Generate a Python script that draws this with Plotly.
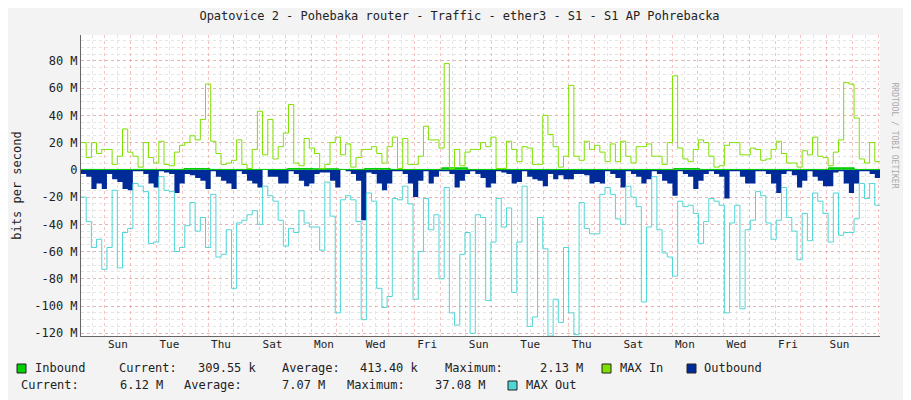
import plotly.graph_objects as go
import pandas as pd

# values in Mbit/s
max_in = [20, 9, 20, 12, 15, 15, 4, 10, 30, 13, 10, 2, 20, 9, 5, 21, 4, 3, 13, 18, 20, 25, 22, 37, 63, 21, 12, 4, 5, 7,
          22, 4, 1, 15, 43, 11, 37, 8, 17, 27, 48, 5, 3, 23, 16, 12,
          1, 4, 20, 24, 11, 19, 2, 9, 15, 15, 17, 12, 5, 17, 24, 1, 23, 4, 4, 10, 32, 22, 22, 16, 78, 1, 15, 3, 13, 15,
          15, 20, 17, 24, 1, 1, 21, 15, 6, 17, 16, 4, 4, 40, 26, 17, 2, 10, 62, 10, 7, 21, 15, 18, 13,
          6, 19, 6, 21, 10, 5, 17, 17, 19, 10, 10, 4, 20, 69, 16, 8, 6, 15, 22, 20, 10, 2, 3, 18, 20, 20, 11, 11, 16, 15,
          7, 8, 15, 21, 12, 5, 5, 2, 14, 11, 24, 10, 9, 3, 13, 22, 64, 63, 38, 8, 5, 20, 6]
max_out = [-20, -38, -57, -51, -73, -57, -15, -72, -46, -43, -10, -12, -16, -54, -53, -5, -15, -16, -60, -57, -41, -24,
           -45, -35, -57, -18, -64, -62, -44, -87, -39, -37, -33, -30, -40, -12, -19, -23, -37, -56, -43, -46, -30,
           -39, -42, -42,
           -59, -9, -34, -105, -22, -19, -22, -38, -110, -17, -23, -87, -101, -93, -21, -22, -12, -25, -95, -60, -21,
           -44, -33, -80, -13, -105, -114, -62, -46, -120, -33, -35, -96, -53, -21, -42, -28, -90, -53, -12, -115,
           -108, -35, -58, -122, -95, -112, -57, -105, -121, -24, -43, -47, -47, -18,
           -13, -18, -36, -40, -12, -20, -27, -97, -42, -5, -44, -61, -64, -78, -23, -27, -26, -32, -54, -38, -21, -23,
           -26, -105, -39, -26, -102, -44, -37, -16, -19, -39, -51, -37, -13, -35, -45, -66, -32, -52, -17, -23, -32,
           -53, -17, -48, -46, -46, -36, -10, -21, -10, -26]
outbound = [-3, -5, -14, -10, -14, -3, -7, -9, -14, -15, -1, -1, -3, -10, -13, -1, -2, -3, -17, -10, -3, -4, -6, -8,
            -14, -1, -5, -8, -10, -14, -1, -3, -8, -10, -13, 0, -5, -5, -10, -10, -1, -3, -8, -12, -10, -3,
            -2, -2, -8, -13, 0, -1, -3, -8, -37, -2, -3, -10, -15, -10, -1, -1, -3, -10, -20, -8, -1, -10, -5, -1, -1,
            -3, -13, -8, -3, -1, -3, -6, -13, -10, -1, -2, -3, -10, -9, -1, -5, -7, -8, -12, -3, -7, -4, -7, -7, -3,
            -3, -4, -10, -9, -10,
            -1, -3, -6, -13, -1, -3, -5, -10, -7, -1, -3, -8, -10, -19, -1, -3, -5, -14, -8, -3, -1, -3, -5, -21, -1,
            -1, -5, -10, -10, -1, -1, -3, -10, -17, -3, -1, -4, -13, -8, -1, -5, -8, -12, -12, -2, -1, -10, -17, -10,
            -1, -1, -3, -6]
inbound_daily = [0.3, 0.3, 0.3, 0.3, 1.0, 0.3, 0.3, 0.3, 1.0, 0.8, 0.3, 1.0, 0.3, 0.3, 1.5, 0.3, 0.3, 0.3, 0.3, 0.3,
                 0.3, 0.3, 0.3, 1.0, 0.3, 0.3, 0.3, 0.3, 0.3, 1.5, 0.3]

day_labels = ["Sun", "Tue", "Thu", "Sat", "Mon", "Wed", "Fri", "Sun", "Tue", "Thu", "Sat", "Mon", "Wed", "Fri", "Sun"]
y_ticks = [-120, -100, -80, -60, -40, -20, 0, 20, 40, 60, 80]

start = pd.Timestamp("2023-01-07 01:40")
end = start + pd.Timedelta(days=31)


def times(n):
    step = (end - start) / n
    return [start + step * i for i in range(n + 1)]


def closed(vals):
    return [v * 1e6 for v in vals] + [vals[-1] * 1e6]


mono = "DejaVu Sans Mono"
red_grid = "rgba(235,120,120,0.45)"
gray_grid = "#E4E4E4"

fig = go.Figure()
fig.add_trace(go.Scatter(x=times(len(outbound)), y=closed(outbound), line_shape="hv", mode="lines",
                         line=dict(width=0), fill="tozeroy", fillcolor="#002A97"))
fig.add_trace(go.Scatter(x=times(len(inbound_daily)), y=closed(inbound_daily), line_shape="hv", mode="lines",
                         line=dict(width=1, color="#00CF00"), fill="tozeroy", fillcolor="#00CF00"))
fig.add_trace(go.Scatter(x=times(len(max_in)), y=closed(max_in), line_shape="hv", mode="lines",
                         line=dict(width=1, color="#7FE000")))
fig.add_trace(go.Scatter(x=times(len(max_out)), y=closed(max_out), line_shape="hv", mode="lines",
                         line=dict(width=1, color="#4FD6D6")))
# invisible trace for the day-name axis
fig.add_trace(go.Scatter(x=[start, end], y=[0, 0], xaxis="x2", mode="none", hoverinfo="skip"))

label_vals = [pd.Timestamp("2023-01-08 12:00") + pd.Timedelta(days=2 * i) for i in range(len(day_labels))]

# the page puts the figure 8px in from the top-left corner
fig.update_layout(
    width=903, height=392, showlegend=False,
    margin=dict(l=73, r=31, t=27, b=64, autoexpand=False),
    paper_bgcolor="#F3F3F3", plot_bgcolor="white",
    font=dict(family=mono, size=11, color="#222"),
    title=dict(text="Opatovice 2 - Pohebaka router - Traffic - ether3 - S1 - S1 AP Pohrebacka",
               x=0.5, xanchor="center", y=0.99, yanchor="top", font=dict(family=mono, size=12)),
    xaxis=dict(range=[start, end], showticklabels=False, tick0="2023-01-08", dtick=86400000,
               showgrid=True, gridcolor=red_grid, griddash="dot", gridwidth=1, automargin=False,
               minor=dict(dtick=43200000, showgrid=True, gridcolor=gray_grid, griddash="dot"),
               showline=True, linecolor="#666", zeroline=False),
    xaxis2=dict(overlaying="x", side="bottom", range=[start, end], tickvals=label_vals, ticktext=day_labels,
                showgrid=False, ticks="", automargin=False, tickfont=dict(family=mono, size=11)),
    yaxis=dict(range=[-122e6, 99e6], tickvals=[v * 1e6 for v in y_ticks],
               ticktext=[("%d M" % v) if v else "0" for v in y_ticks], automargin=False,
               showgrid=True, gridcolor=red_grid, griddash="dot",
               minor=dict(dtick=5e6, showgrid=True, gridcolor=gray_grid, griddash="dot"),
               showline=True, linecolor="#666", zeroline=False, ticks="", tickfont=dict(size=12),
               title=dict(text="bits per second", standoff=10, font=dict(family=mono, size=12))),
)

# (x, text, colour, anchor): "sq" draws a legend colour box; x, y are page pixels
legend_rows = [
    (368, [(17, "sq", "#00CF00", "left"), (33, "Inbound", None, "left"), (117, "Current:", None, "left"),
           (259, "309.55 k", None, "right"), (280, "Average:", None, "left"), (421, "413.40 k", None, "right"),
           (443, "Maximum:", None, "left"), (585, "2.13 M", None, "right"), (602, "sq", "#7FE000", "left"),
           (618, "MAX In", None, "left"), (687, "sq", "#002A97", "left"), (702, "Outbound", None, "left")]),
    (385, [(19, "Current:", None, "left"), (165, "6.12 M", None, "right"), (182, "Average:", None, "left"),
           (327, "7.07 M", None, "right"), (345, "Maximum:", None, "left"), (488, "37.08 M", None, "right"),
           (508, "sq", "#4FD6D6", "left"), (524, "MAX Out", None, "left")]),
]
for y, items in legend_rows:
    for x, txt, col, anchor in items:
        if txt == "sq":
            fig.add_shape(type="rect", xref="paper", yref="paper",
                          x0=(x - 81) / 799, x1=(x + 9 - 81) / 799,
                          y0=(336 - y - 5) / 301, y1=(336 - y + 4) / 301,
                          fillcolor=col, line=dict(color="#222", width=1))
        else:
            fig.add_annotation(text=txt, xref="paper", yref="paper",
                               x=(x - 81) / 799, y=(336 - y) / 301, xanchor=anchor, yanchor="middle",
                               showarrow=False, font=dict(family=mono, size=12, color="#222"))

fig.add_annotation(text="RRDTOOL / TOBI OETIKER", xref="paper", yref="paper", x=(901 - 81) / 799,
                   y=(336 - 80) / 301, textangle=90, showarrow=False,
                   font=dict(family=mono, size=8, color="#AAAAAA"))

fig.write_html("out.html")
